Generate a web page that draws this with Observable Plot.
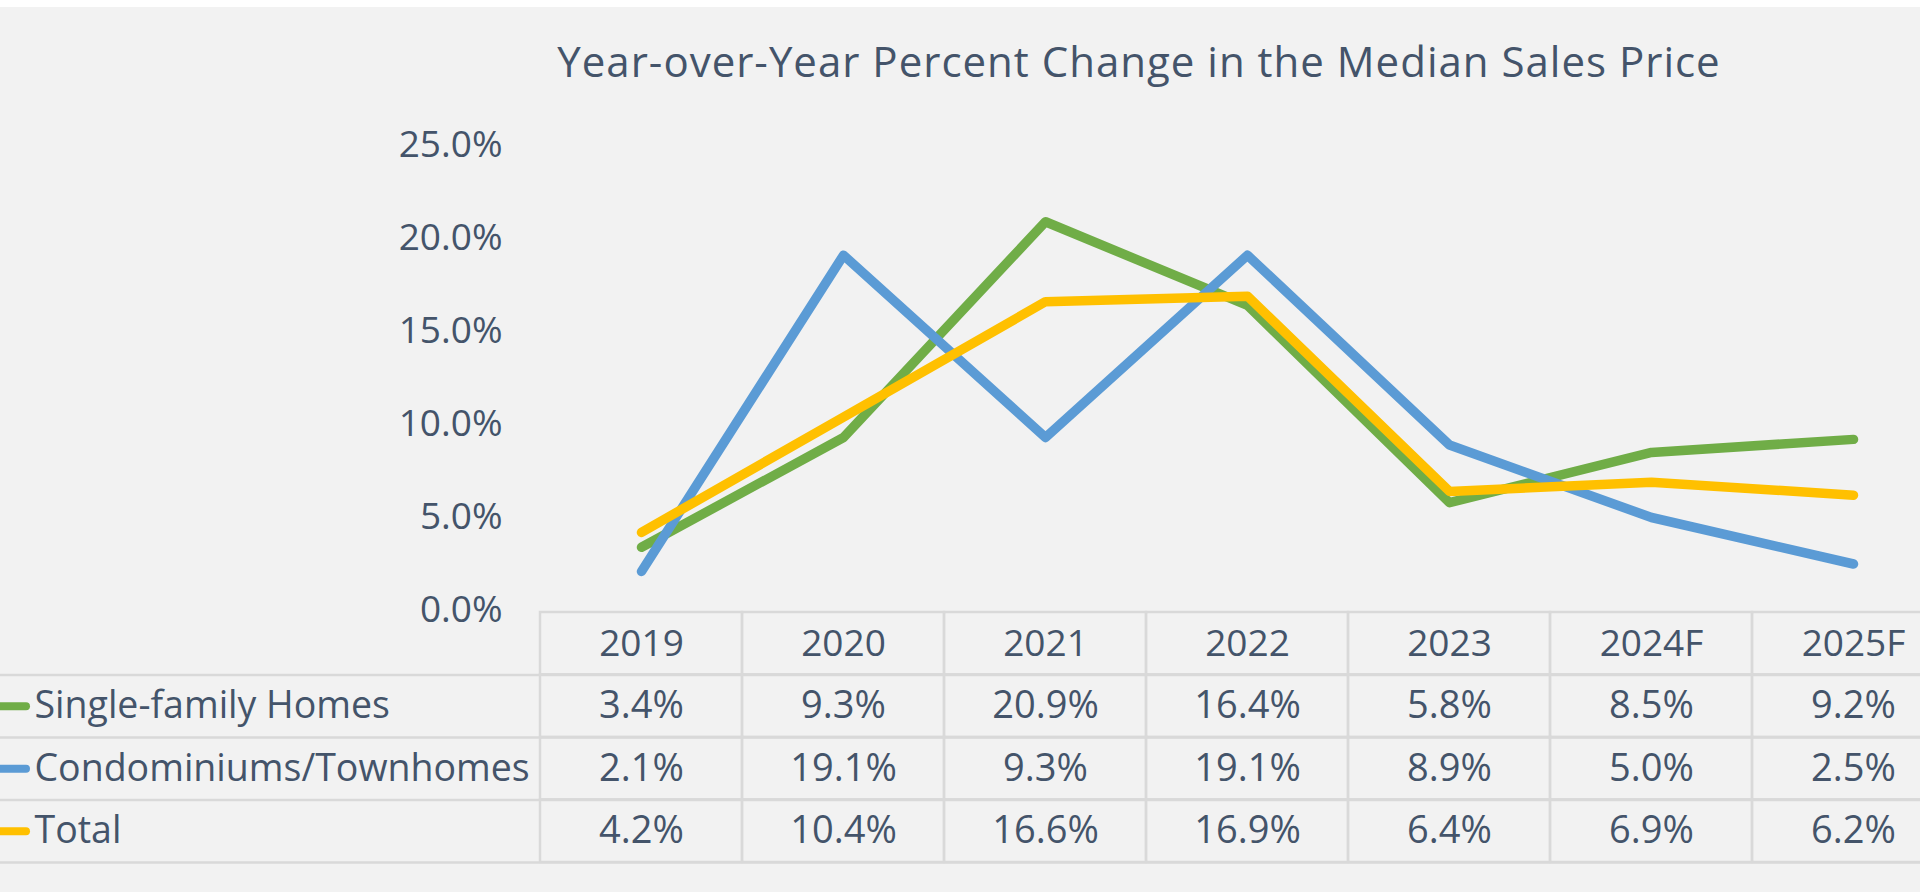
<!DOCTYPE html>
<html>
<head>
<meta charset="utf-8">
<script src="https://cdn.jsdelivr.net/npm/d3@7"></script>
<script src="https://cdn.jsdelivr.net/npm/@observablehq/plot@0.6"></script>
<style>
  html, body { margin: 0; padding: 0; background: #f2f2f2; }
  #wrap { position: relative; width: 1920px; height: 892px; background: #f2f2f2; overflow: hidden; font-family: "Open Sans", Roboto, sans-serif; }
  #topstrip { position: absolute; left: 0; top: 0; width: 1920px; height: 7px; background: #ffffff; }
  #title { position: absolute; left: 358px; width: 1562px; top: 40px; text-align: center; font-size: 42px; line-height: 42px; letter-spacing: 1px; color: #44546A; white-space: nowrap; }
  #chart, #table { position: absolute; left: 0; }
  #chart { top: 0; }
  #table { top: 600px; }
  svg { overflow: visible; }
</style>
</head>
<body>
<div id="wrap">
  <div id="topstrip"></div>
  <div id="title">Year-over-Year Percent Change in the Median Sales Price</div>
  <div id="chart"></div>
  <div id="table"></div>
</div>
<script>
// ---- data ----
const years = ["2019", "2020", "2021", "2022", "2023", "2024F", "2025F"];
const seriesNames = ["Single-family Homes", "Condominiums/Townhomes", "Total"];
const singleFamily = [3.4, 9.3, 20.9, 16.4, 5.8, 8.5, 9.2];
const condos = [2.1, 19.1, 9.3, 19.1, 8.9, 5.0, 2.5];
const total = [4.2, 10.4, 16.6, 16.9, 6.4, 6.9, 6.2];
const yTicks = [0, 5, 10, 15, 20, 25];
const seriesColors = ["#70AD47", "#5B9BD5", "#FFC000"];

const seriesValues = [singleFamily, condos, total];
const long = [];
seriesNames.forEach((s, si) => years.forEach((y, yi) => long.push({series: s, year: y, value: seriesValues[si][yi], row: si + 1})));

const textColor = "#44546A";
const gridColor = "#d9d9d9";
const font = "'Open Sans', Roboto, sans-serif";
const fmt = v => v.toFixed(1) + "%";

const xScale = {type: "band", domain: years, range: [540, 1954], padding: 0};
const colorScale = {domain: seriesNames, range: seriesColors};

// ---- chart ----
const chart = Plot.plot({
  width: 1920,
  height: 620,
  marginTop: 145,
  marginBottom: 10,
  marginLeft: 540,
  marginRight: 0,
  style: {background: "transparent", color: textColor, fontFamily: font, fontSize: "37px", overflow: "visible"},
  x: {...xScale, axis: null},
  y: {domain: [0, 25], ticks: yTicks},
  color: colorScale,
  marks: [
    Plot.axisY({ticks: yTicks, tickFormat: fmt, tickSize: 0, tickPadding: 38, label: null, fontSize: 37}),
    Plot.line(long, {x: "year", y: "value", z: "series", stroke: "series", strokeWidth: 9.5, strokeLinecap: "round", strokeLinejoin: "round"})
  ]
});
document.getElementById("chart").appendChild(chart);

// ---- table ----
const cells = [];
for (let r = 0; r < 4; r++) years.forEach(y => cells.push({year: y, r}));
const legendRows = seriesNames.map((s, i) => ({series: s, r: i + 1}));

const table = Plot.plot({
  width: 1920,
  height: 292,
  marginTop: 0,
  marginBottom: 0,
  marginLeft: 0,
  marginRight: 0,
  style: {background: "transparent", color: textColor, fontFamily: font, fontSize: "37px", overflow: "visible"},
  x: {...xScale, axis: null},
  y: {domain: [0, 4], range: [12, 262], axis: null},
  color: colorScale,
  marks: [
    Plot.ruleY([1, 2, 3, 4], {stroke: gridColor, strokeWidth: 2.5}),
    Plot.barY(cells, {x: "year", y1: "r", y2: d => d.r + 1, fill: "none", stroke: gridColor, strokeWidth: 2.5, insetLeft: 0, insetRight: 0}),
    Plot.text(years, {x: d => d, y: 0.5, text: d => d, fill: textColor, fontSize: 37}),
    Plot.text(long, {x: "year", y: d => d.row + 0.5, text: d => fmt(d.value), fill: textColor, fontSize: 38}),
    Plot.ruleY(legendRows, {y: d => d.r + 0.5, stroke: "series", strokeWidth: 8, strokeLinecap: "round", insetRight: 1920 - 26}),
    Plot.text(legendRows, {y: d => d.r + 0.5, text: "series", frameAnchor: "left", dx: 34, textAnchor: "start", fill: textColor, fontSize: 37.5})
  ]
});
document.getElementById("table").appendChild(table);
</script>
</body>
</html>
